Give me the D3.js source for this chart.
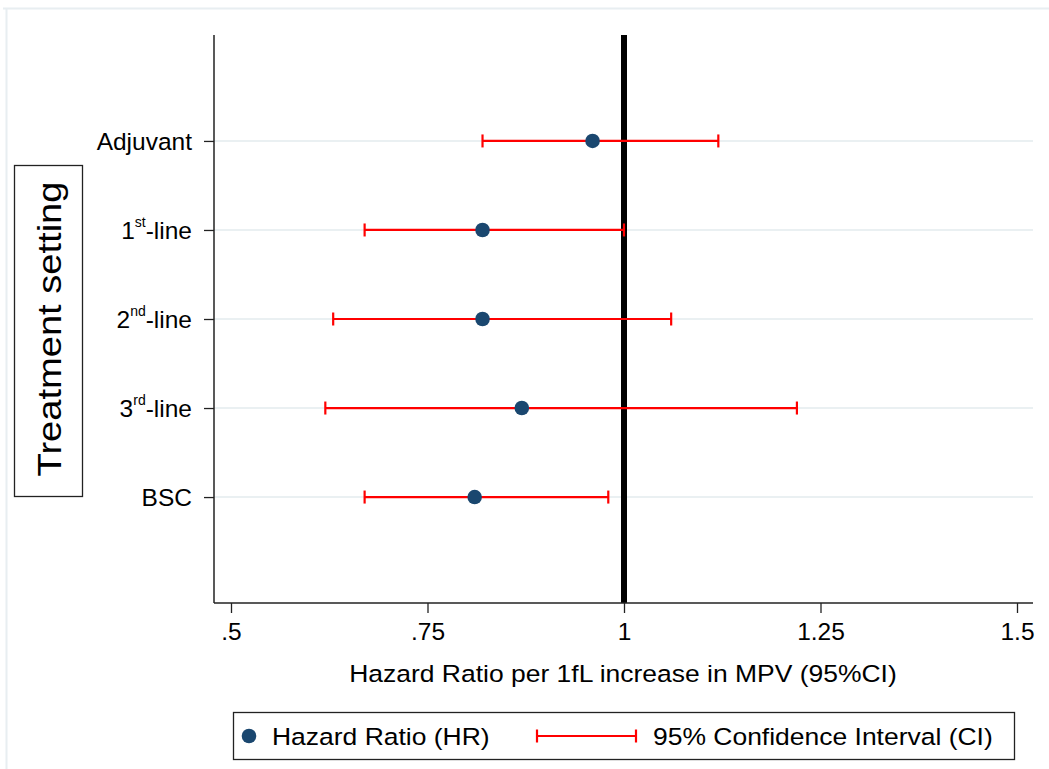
<!DOCTYPE html>
<html>
<head>
<meta charset="utf-8">
<script src="https://cdn.jsdelivr.net/npm/d3@7"></script>
<style>
  body { margin: 0; background: #fff; }
  svg { display: block; font-family: Arial, "Liberation Sans", Helvetica, sans-serif; }
</style>
</head>
<body>
<svg id="chart" width="1049" height="769"></svg>
<script>
// ---- data ----
const categories = ["Adjuvant", "1st-line", "2nd-line", "3rd-line", "BSC"];
const labelBase = ["Adjuvant", "1", "2", "3", "BSC"];
const labelSup = ["", "st", "nd", "rd", ""];
const hr = [0.96, 0.82, 0.82, 0.87, 0.81];
const ciLow = [0.82, 0.67, 0.63, 0.62, 0.67];
const ciHigh = [1.12, 1.00, 1.06, 1.22, 0.98];
const xTicks = [0.5, 0.75, 1, 1.25, 1.5];
const xTickLabels = [".5", ".75", "1", "1.25", "1.5"];
const refValue = 1;

const svg = d3.select("#chart");
const FS = 24.5;
const STRETCH = 1.08;
function stretch(sel, factor) {
  sel.each(function () {
    const w = this.getComputedTextLength();
    d3.select(this).attr("textLength", w * factor).attr("lengthAdjust", "spacingAndGlyphs");
  });
}

// outer frame
svg.append("line").attr("x1", 3).attr("x2", 1049).attr("y1", 8.5).attr("y2", 8.5)
  .attr("stroke", "#e8eef1").attr("stroke-width", 2);
svg.append("line").attr("x1", 6.5).attr("x2", 6.5).attr("y1", 8).attr("y2", 769)
  .attr("stroke", "#e8eef1").attr("stroke-width", 2);

const plotLeft = 214, plotRight = 1033, plotTop = 35, plotBottom = 603;

const x = d3.scaleLinear().domain([0.5, 1.5]).range([231, 1017]);
const y = d3.scaleLinear().domain([1 - 1.19, 5 + 1.19]).range([plotTop, plotBottom]);

const idx = d3.range(categories.length);

// gridlines
svg.append("g").selectAll("line").data(idx).join("line")
  .attr("x1", plotLeft).attr("x2", plotRight)
  .attr("y1", i => y(i + 1)).attr("y2", i => y(i + 1))
  .attr("stroke", "#eaf0f2").attr("stroke-width", 2);

// reference line
svg.append("line")
  .attr("x1", x(refValue)).attr("x2", x(refValue))
  .attr("y1", plotTop).attr("y2", plotBottom)
  .attr("stroke", "#000").attr("stroke-width", 6);

// axes
const yAxis = d3.axisLeft(y).tickValues(idx.map(i => i + 1)).tickSize(10).tickFormat(() => "");
const gy = svg.append("g").attr("transform", `translate(${plotLeft},0)`).call(yAxis);
gy.select(".domain").attr("d", `M0,${plotTop}V${plotBottom}`).attr("stroke", "#222").attr("stroke-width", 1.5);
gy.selectAll(".tick line").attr("stroke", "#222").attr("stroke-width", 1.3);

const ylab = svg.append("g");
idx.forEach(i => {
  const t = ylab.append("text")
    .attr("x", 192).attr("y", y(i + 1)).attr("dy", "0.36em")
    .attr("text-anchor", "end").attr("font-size", FS).attr("fill", "#000");
  t.append("tspan").text(labelBase[i]);
  if (labelSup[i]) {
    t.append("tspan").attr("font-size", 14).attr("dy", "-0.85em").text(labelSup[i]);
    t.append("tspan").attr("dy", "0.485em").text("-line");
  }
});

const xAxis = d3.axisBottom(x).tickValues(xTicks).tickSize(10)
  .tickFormat((d, i) => xTickLabels[i]);
const gx = svg.append("g").attr("transform", `translate(0,${plotBottom})`).call(xAxis);
gx.select(".domain").attr("d", `M${plotLeft},0H${plotRight}`).attr("stroke", "#222").attr("stroke-width", 1.5);
gx.selectAll(".tick line").attr("stroke", "#222").attr("stroke-width", 1.3);
gx.selectAll(".tick text").attr("font-size", FS).attr("fill", "#000").attr("y", 20)
  .attr("font-family", "Arial, 'Liberation Sans', sans-serif");

// x title
svg.append("text").attr("x", 623).attr("y", 682).attr("text-anchor", "middle")
  .attr("font-size", FS).attr("fill", "#000")
  .text("Hazard Ratio per 1fL increase in MPV (95%CI)")
  .call(stretch, STRETCH);

// y title box
svg.append("rect").attr("x", 14.5).attr("y", 165.5).attr("width", 68).attr("height", 331)
  .attr("fill", "#fff").attr("stroke", "#222").attr("stroke-width", 1.3);
svg.append("text").attr("transform", "translate(49,329) rotate(-90)")
  .attr("text-anchor", "middle").attr("dy", "0.36em")
  .attr("font-size", 34).attr("fill", "#000").text("Treatment setting")
  .call(stretch, 1.12);

// CI bars
const cap = 6.5;
const ci = svg.append("g").attr("stroke", "#ff0000").attr("stroke-width", 2.2);
ci.selectAll(".ci").data(idx).join("line")
  .attr("x1", i => x(ciLow[i])).attr("x2", i => x(ciHigh[i]))
  .attr("y1", i => y(i + 1)).attr("y2", i => y(i + 1));
ci.selectAll(".capL").data(idx).join("line").attr("class", "capL")
  .attr("x1", i => x(ciLow[i])).attr("x2", i => x(ciLow[i]))
  .attr("y1", i => y(i + 1) - cap).attr("y2", i => y(i + 1) + cap);
ci.selectAll(".capH").data(idx).join("line").attr("class", "capH")
  .attr("x1", i => x(ciHigh[i])).attr("x2", i => x(ciHigh[i]))
  .attr("y1", i => y(i + 1) - cap).attr("y2", i => y(i + 1) + cap);

// points
svg.append("g").selectAll("circle").data(idx).join("circle")
  .attr("cx", i => x(hr[i])).attr("cy", i => y(i + 1)).attr("r", 7.3)
  .attr("fill", "#1a476f");

// legend
const lg = svg.append("g");
lg.append("rect").attr("x", 233.5).attr("y", 712.5).attr("width", 781).attr("height", 47)
  .attr("fill", "#fff").attr("stroke", "#222").attr("stroke-width", 1.3);
lg.append("circle").attr("cx", 249).attr("cy", 736).attr("r", 7.3).attr("fill", "#1a476f");
lg.append("text").attr("x", 272).attr("y", 736).attr("dy", "0.36em").attr("font-size", FS)
  .attr("fill", "#000").text("Hazard Ratio (HR)").call(stretch, STRETCH);
const lc = lg.append("g").attr("stroke", "#ff0000").attr("stroke-width", 2.2);
lc.append("line").attr("x1", 537).attr("x2", 636).attr("y1", 736).attr("y2", 736);
lc.append("line").attr("x1", 537).attr("x2", 537).attr("y1", 736 - cap).attr("y2", 736 + cap);
lc.append("line").attr("x1", 636).attr("x2", 636).attr("y1", 736 - cap).attr("y2", 736 + cap);
lg.append("text").attr("x", 653).attr("y", 736).attr("dy", "0.36em").attr("font-size", FS)
  .attr("fill", "#000").text("95% Confidence Interval (CI)").call(stretch, STRETCH);
</script>
</body>
</html>
